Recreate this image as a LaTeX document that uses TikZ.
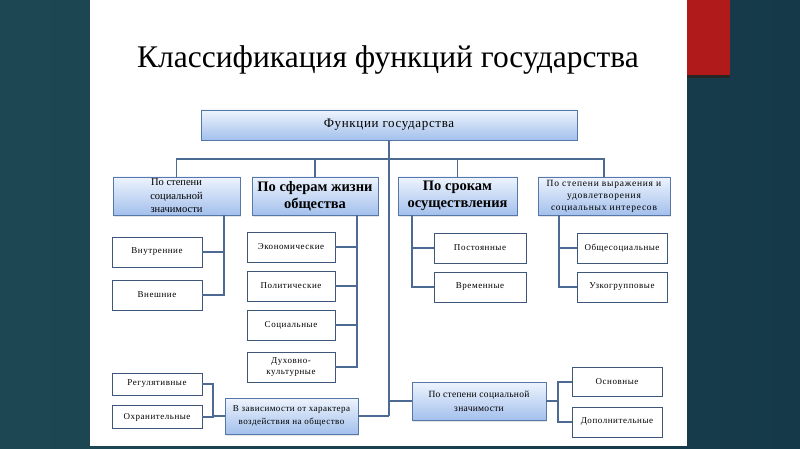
\documentclass[tikz,border=0pt]{standalone}
\usepackage{fontspec}
\setmainfont{Liberation Serif}
\usetikzlibrary{shadows}
\definecolor{slideleft}{RGB}{29,72,83}
\definecolor{slideright}{RGB}{21,57,73}
\definecolor{redtab}{RGB}{176,26,26}
\definecolor{grptop}{RGB}{238,244,253}
\definecolor{grpbot}{RGB}{163,192,236}
\definecolor{grpline}{RGB}{86,120,168}
\definecolor{leafline}{RGB}{62,86,120}
\definecolor{linkcol}{RGB}{76,106,146}
\newcommand\spaced[3]{\fontsize{#1}{#2}\selectfont\addfontfeature{LetterSpace = #3}}
\begin{document}
\begin{tikzpicture}[x = 1pt, y = -1pt,
  grp/.style = {draw = grpline, top color = grptop, bottom color = grpbot, align = center, inner sep = 0pt,
    drop shadow = {opacity = .2, shadow xshift = 1pt, shadow yshift = -1.5pt}},
  leaf/.style = {draw = leafline, fill = white, align = center, inner sep = 0pt, font = \spaced{9}{10.5}{6}},
  link/.style = {draw = linkcol, line width = 1.5pt}]
  \useasboundingbox (0, 0) rectangle (800, 449);
  \shade[left color = slideleft, right color = slideright] (0, 0) rectangle (800, 449);
  \fill[white] (90, 0) rectangle (687, 446);
  \fill[black!85] (687, 73) rectangle (730, 78);
  \fill[redtab] (687, 0) rectangle (730, 75);
  \node[anchor = base, font = \fontsize{31.5}{36}\selectfont] (title) at (388, 68) {Классификация функций государства};
  \node[grp, minimum width = 376pt, minimum height = 30pt, font = \spaced{13}{15}{5}] (func) at (389, 125) {Функции государства};
  \node[grp, minimum width = 127pt, minimum height = 38pt, font = \fontsize{10.5}{13.5}\selectfont] (znach) at (176.5, 196) {По степени\\социальной\\значимости};
  \node[grp, minimum width = 126pt, minimum height = 38pt, font = \fontsize{14.5}{17}\selectfont\bfseries] (sfery) at (315, 196) {По сферам жизни\\общества};
  \node[grp, minimum width = 119pt, minimum height = 38pt, font = \fontsize{14.5}{17}\selectfont\bfseries] (sroki) at (457.5, 196) {По срокам\\осуществления};
  \node[grp, minimum width = 132pt, minimum height = 38pt, font = \spaced{9.5}{12}{8}] (interes) at (604, 196) {По степени выражения и\\удовлетворения\\социальных интересов};
  \coordinate (bus) at (389, 159);
  \coordinate (spine) at (389, 416);
  \draw[link] (func.south) -- (spine);
  \draw[link] (znach.north) |- (bus) -| (interes.north);
  \draw[link] (sfery.north) -- (sfery.north |- bus);
  \draw[link] (sroki.north) -- (sroki.north |- bus);
  \foreach \name/\ypos/\txt in {vnutr/252/Внутренние, vnesh/295/Внешние}
    \node[leaf, minimum width = 90pt, minimum height = 30pt] (\name) at (157, \ypos) {\txt};
  \draw[link] ([xshift = 47.5pt]znach.south) |- (vnesh.east);
  \draw[link] (vnutr.east) -- ++(22, 0);
  \foreach \name/\ypos/\txt in {ekon/247/Экономические, polit/286/Политические, soc/325/Социальные, duh/367/{Духовно-\\культурные}}
    \node[leaf, minimum width = 88pt, minimum height = 30pt] (\name) at (291, \ypos) {\txt};
  \draw[link] ([xshift = 42pt]sfery.south) |- (duh.east);
  \foreach \name in {ekon, polit, soc}
    \draw[link] (\name.east) -- ++(22, 0);
  \foreach \name/\ypos/\txt in {post/248/Постоянные, vrem/287/Временные}
    \node[leaf, minimum width = 92pt, minimum height = 30pt] (\name) at (480, \ypos) {\txt};
  \draw[link] ([xshift = -45.5pt]sroki.south) |- (vrem.west);
  \draw[link] (post.west) -- ++(-22, 0);
  \foreach \name/\ypos/\txt in {obsh/248/Общесоциальные, uzko/287/Узкогрупповые}
    \node[leaf, minimum width = 90pt, minimum height = 30pt] (\name) at (622, \ypos) {\txt};
  \draw[link] ([xshift = -45pt]interes.south) |- (uzko.west);
  \draw[link] (obsh.west) -- ++(-18, 0);
  \node[grp, minimum width = 133pt, minimum height = 36pt, font = \spaced{9}{13}{5}] (vozd) at (291.5, 416) {В зависимости от характера\\воздействия на общество};
  \node[leaf, minimum width = 90pt, minimum height = 22pt] (regul) at (157, 384) {Регулятивные};
  \node[leaf, minimum width = 90pt, minimum height = 23pt] (ohran) at (157, 417) {Охранительные};
  \draw[link] (regul.east) -- ++(11, 0) |- (ohran.east);
  \draw[link] (vozd.west) -- ++(-12, 0);
  \draw[link] (vozd.east) -- (spine);
  \node[grp, minimum width = 134pt, minimum height = 38pt, font = \spaced{9.5}{14}{3}] (socz) at (479, 401) {По степени социальной\\значимости};
  \draw[link] (socz.west) -- (socz.west -| spine);
  \node[leaf, minimum width = 90pt, minimum height = 29pt] (osn) at (617, 382) {Основные};
  \node[leaf, minimum width = 90pt, minimum height = 30pt] (dop) at (617, 422) {Дополнительные};
  \draw[link] (osn.west) -- ++(-14, 0) |- (dop.west);
  \draw[link] (socz.east) -- ++(12, 0);
\end{tikzpicture}
\end{document}
